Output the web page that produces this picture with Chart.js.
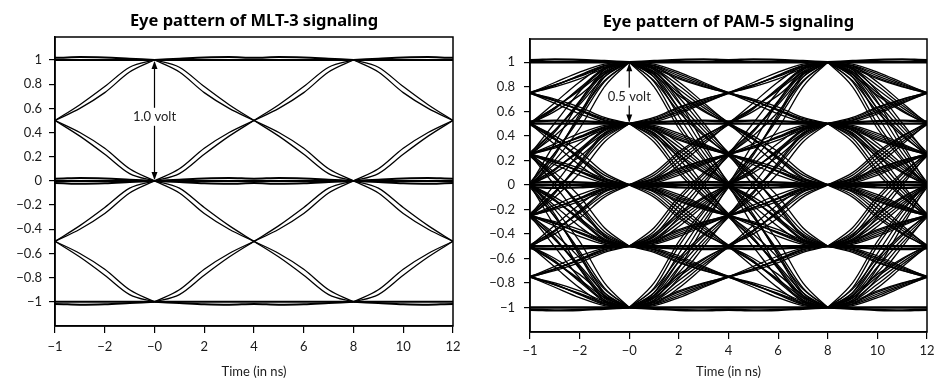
<!DOCTYPE html>
<html>
<head>
<meta charset="utf-8">
<script src="https://cdn.jsdelivr.net/npm/chart.js@4.4.1/dist/chart.umd.min.js"></script>
<style>
  html, body { margin: 0; padding: 0; background: #fff; }
  #wrap { position: relative; width: 939px; height: 381px; }
  .panel { position: absolute; top: 0; height: 381px; }
</style>
</head>
<body>
<div id="wrap">
  <div class="panel" style="left:0;width:469px"><canvas id="mltChart" width="469" height="381"></canvas></div>
  <div class="panel" style="left:469px;width:470px"><canvas id="pamChart" width="470" height="381"></canvas></div>
</div>
<script>
// axis ticks
const xTickValues = [-4, -2, 0, 2, 4, 6, 8, 10, 12];
const xTickLabels = ['−1', '−2', '−0', '2', '4', '6', '8', '10', '12'];
const yTickValues = [1, 0.8, 0.6, 0.4, 0.2, 0, -0.2, -0.4, -0.6, -0.8, -1];
const yTickLabels = ['1', '0.8', '0.6', '0.4', '0.2', '0', '−0.2', '−0.4', '−0.6', '−0.8', '−1'];

// each symbol lasts 8 ns; traces start at these times
const symbolStarts = [-8, 0, 8];
const sampleOffsets = [0, 1, 2, 3, 4, 5, 6, 7, 8];

// edge shapes: fraction of the level step reached at each sample
const edgeMain = [0, 0.06, 0.22, 0.37, 0.5, 0.63, 0.78, 0.94, 1];
const edgeFast = [0, 0.1, 0.27, 0.4, 0.5, 0.6, 0.73, 0.9, 1];
const edgeSlow = [0, 0.03, 0.16, 0.33, 0.5, 0.67, 0.84, 0.97, 1];
const edgeEarly = [0, 0.08, 0.25, 0.39, 0.51, 0.63, 0.77, 0.92, 1];
const edgeLate = [0, 0.05, 0.19, 0.35, 0.49, 0.62, 0.79, 0.95, 1];
// small overshoot seen on traces holding a level
const holdRipple = [0, 0.01, 0.02, 0.024, 0.018, 0.024, 0.02, 0.01, 0];

// MLT-3: three levels, moves by one level at most
const mltLevels = [1, 0, -1];
const mltSteps = [[1, 0], [0, 1], [0, -1], [-1, 0]];

// PAM-5: five levels, any level to any level
const pamLevels = [1, 0.5, 0, -0.5, -1];

function segment(t0, from, to, shape) {
  return sampleOffsets.map((dt, i) => ({ x: t0 + dt, y: from + (to - from) * shape[i] }));
}

function lineSet(points, width) {
  return {
    data: points,
    borderColor: '#000',
    borderWidth: width,
    pointRadius: 0,
    fill: false,
    cubicInterpolationMode: 'monotone'
  };
}

function holdSets(level, width) {
  const sets = [];
  symbolStarts.forEach(t0 => {
    sets.push(lineSet(segment(t0, level, level, edgeMain), width));
    const signs = level > 0 ? [1] : level < 0 ? [-1] : [1, -1];
    signs.forEach(s => {
      sets.push(lineSet(sampleOffsets.map((dt, i) => ({ x: t0 + dt, y: level + s * holdRipple[i] })), width));
    });
  });
  return sets;
}

function mltDatasets() {
  const sets = [];
  symbolStarts.forEach(t0 => {
    mltSteps.forEach(([a, b]) => {
      [edgeMain, edgeFast].forEach(shape => sets.push(lineSet(segment(t0, a, b, shape), 1.3)));
    });
  });
  mltLevels.forEach(l => sets.push(...holdSets(l, 2)));
  return sets;
}

function pamDatasets() {
  const sets = [];
  symbolStarts.forEach(t0 => {
    pamLevels.forEach(a => {
      pamLevels.forEach(b => {
        if (a === b) return;
        [edgeMain, edgeFast, edgeSlow, edgeEarly, edgeLate].forEach(shape =>
          sets.push(lineSet(segment(t0, a, b, shape), 1.3)));
      });
    });
  });
  pamLevels.forEach(l => sets.push(...holdSets(l, 2.4)));
  return sets;
}

const tickFont = { family: 'Lato', size: 13 };
const tickColor = '#1a1a1a';

// box around the plot plus the voltage arrow
const frameAndArrow = {
  id: 'frameAndArrow',
  afterDatasetsDraw(chart, args, opts) {
    const { ctx, chartArea: a, scales: { x, y } } = chart;
    ctx.save();
    ctx.strokeStyle = '#000';
    ctx.lineWidth = 1.5;
    ctx.strokeRect(a.left, a.top, a.right - a.left, a.bottom - a.top);

    const px = x.getPixelForValue(opts.at);
    const top = y.getPixelForValue(opts.from);
    const bot = y.getPixelForValue(opts.to);
    ctx.lineWidth = 1.2;
    ctx.beginPath();
    ctx.moveTo(px, top + 2);
    ctx.lineTo(px, bot - 2);
    ctx.stroke();
    ctx.fillStyle = '#000';
    ctx.beginPath();
    ctx.moveTo(px, top + 1); ctx.lineTo(px - 3, top + 9); ctx.lineTo(px + 3, top + 9); ctx.closePath();
    ctx.fill();
    ctx.beginPath();
    ctx.moveTo(px, bot - 1); ctx.lineTo(px - 3, bot - 9); ctx.lineTo(px + 3, bot - 9); ctx.closePath();
    ctx.fill();

    const ly = y.getPixelForValue(opts.labelAt);
    ctx.font = '13px Lato';
    const w = ctx.measureText(opts.label).width;
    ctx.fillStyle = '#fff';
    ctx.fillRect(px - w / 2 - 3, ly - 9, w + 6, 18);
    ctx.fillStyle = '#222';
    ctx.textAlign = 'center';
    ctx.textBaseline = 'middle';
    ctx.fillText(opts.label, px, ly);
    ctx.restore();
  }
};

function makeChart(id, title, datasets, lay, arrow) {
  return new Chart(document.getElementById(id), {
    type: 'line',
    data: { datasets },
    plugins: [frameAndArrow],
    options: {
      responsive: false,
      animation: false,
      layout: { padding: { left: 0, right: lay.right, top: 0, bottom: 0 } },
      plugins: {
        legend: { display: false },
        tooltip: { enabled: false },
        title: {
          display: true,
          text: title,
          fullSize: false,
          color: '#000',
          font: { family: "'Noto Sans'", size: 16.5, weight: 'bold' },
          padding: { top: lay.titleTop, bottom: lay.titleBottom }
        },
        frameAndArrow: arrow
      },
      scales: {
        x: {
          type: 'linear',
          min: -4,
          max: 12,
          afterBuildTicks: s => { s.ticks = xTickValues.map(v => ({ value: v })); },
          afterFit: s => { s.height = lay.xHeight; },
          ticks: {
            callback: (v, i) => xTickLabels[i],
            font: tickFont,
            color: tickColor,
            padding: lay.xPad,
            maxRotation: 0,
            autoSkip: false
          },
          grid: { drawOnChartArea: false, drawTicks: true, tickLength: 7, color: '#000', lineWidth: 1.2 },
          border: { display: true, color: '#000', width: 1.5 },
          title: {
            display: true,
            text: 'Time (in ns)',
            font: { family: 'Lato', size: 13 },
            color: tickColor,
            padding: { top: 0, bottom: 1 }
          }
        },
        y: {
          type: 'linear',
          min: -1.2,
          max: 1.19,
          afterBuildTicks: s => { s.ticks = yTickValues.map(v => ({ value: v })); },
          afterFit: s => { s.width = lay.yWidth; },
          ticks: {
            callback: (v, i) => yTickLabels[i],
            font: tickFont,
            color: tickColor,
            padding: lay.yPad,
            autoSkip: false
          },
          grid: { drawOnChartArea: false, drawTicks: true, tickLength: 6, color: '#000', lineWidth: 1.2 },
          border: { display: true, color: '#000', width: 1.5 }
        }
      }
    }
  });
}

makeChart('mltChart', 'Eye pattern of MLT-3 signaling', mltDatasets(),
  { right: 16, titleTop: 11, titleBottom: 6.2, xHeight: 55, xPad: 6, yWidth: 55, yPad: 7 },
  { at: 0, from: 1, to: 0, labelAt: 0.53, label: '1.0 volt' });

makeChart('pamChart', 'Eye pattern of PAM-5 signaling', pamDatasets(),
  { right: 12, titleTop: 12, titleBottom: 7.2, xHeight: 49, xPad: 4, yWidth: 61, yPad: 9 },
  { at: 0, from: 1, to: 0.5, labelAt: 0.72, label: '0.5 volt' });
</script>
</body>
</html>
